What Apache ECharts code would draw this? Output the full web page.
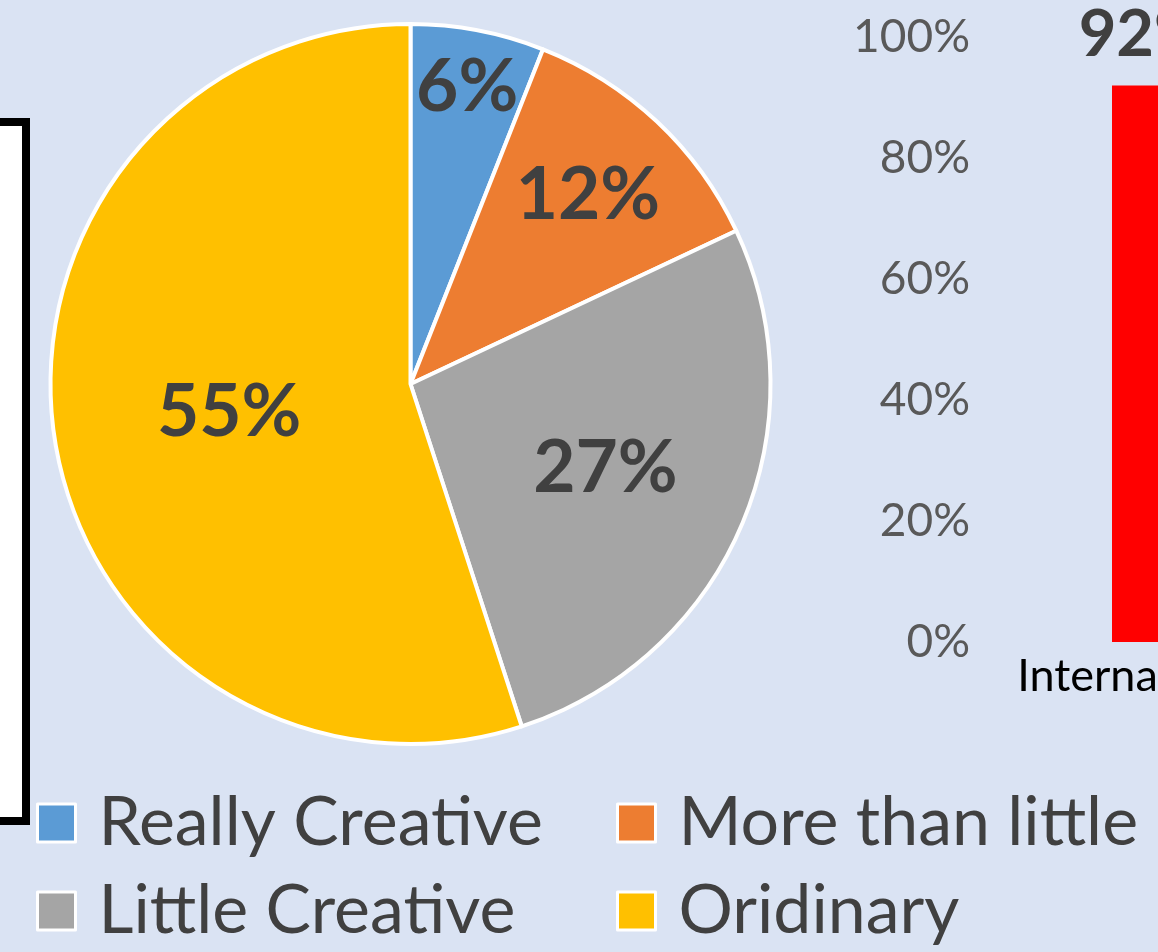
<!DOCTYPE html>
<html>
<head>
<meta charset="utf-8">
<script src="https://cdn.jsdelivr.net/npm/echarts@6/dist/echarts.min.js"></script>
<style>
html,body{margin:0;padding:0;background:#dae3f3;}
#c{width:1158px;height:952px;}
</style>
</head>
<body>
<div id="c"></div>
<script>
// ---- data ----
const pieCategories = ['Really Creative', 'More than little Creative', 'Little Creative', 'Oridinary'];
const pieValues = [6, 12, 27, 55];
const barCategories = ['International'];
const barValues = [92];
const yTicks = [0, 20, 40, 60, 80, 100];

// ---- style ----
const FONT = 'Lato';
const pieColors = ['#5b9bd5', '#ed7d31', '#a5a5a5', '#ffc000'];
const pieCenter = [410.5, 384];
const pieRadius = 360;
const labelRadiusFrac = [0.84, 0.72, 0.59, 0.51];

const total = pieValues.reduce((a, b) => a + b, 0);
const cum = [];
let acc = 0;
pieValues.forEach(v => { cum.push(acc + v / 2); acc += v; });

const legendText = {
  fontFamily: FONT, fontSize: 68, color: '#404040',
  lineHeight: 70, padding: [0, 0, 0, 18]
};
const legendBase = {
  orient: 'vertical',
  top: 783,
  icon: 'rect',
  itemWidth: 38,
  itemHeight: 38,
  itemGap: 18,
  itemStyle: {borderColor: '#ffffff', borderWidth: 3},
  textStyle: legendText
};

const chart = echarts.init(document.getElementById('c'), null, {renderer: 'canvas'});
chart.setOption({
  backgroundColor: '#dae3f3',
  animation: false,
  graphic: [{
    type: 'rect',
    shape: {x: -40, y: 122, width: 66, height: 699},
    style: {fill: '#ffffff', stroke: '#000000', lineWidth: 8},
    z: 0
  }],
  legend: [
    Object.assign({}, legendBase, {left: 31, data: [pieCategories[0], pieCategories[2]]}),
    Object.assign({}, legendBase, {left: 611, data: [pieCategories[1], pieCategories[3]]})
  ],
  grid: {left: 1000, width: 286, top: 37, bottom: 310, containLabel: false, outerBoundsMode: 'none'},
  xAxis: {
    type: 'category',
    data: barCategories,
    axisLine: {show: false},
    axisTick: {show: false},
    axisLabel: {fontFamily: FONT, fontSize: 45, color: '#000000', margin: 12}
  },
  yAxis: {
    type: 'value',
    min: yTicks[0],
    max: yTicks[yTicks.length - 1],
    interval: yTicks[1] - yTicks[0],
    axisLine: {show: false},
    axisTick: {show: false},
    splitLine: {show: false},
    axisLabel: {fontFamily: FONT, fontSize: 46, color: '#595959', margin: 30, formatter: '{value}%'}
  },
  series: [
    {
      type: 'pie',
      center: pieCenter,
      radius: pieRadius,
      startAngle: 90,
      clockwise: true,
      data: pieCategories.map((n, i) => ({name: n, value: pieValues[i], itemStyle: {color: pieColors[i]}})),
      itemStyle: {borderColor: '#ffffff', borderWidth: 4},
      label: {
        show: true, position: 'inside', formatter: '{c}%',
        fontFamily: FONT, fontWeight: 'bold', fontSize: 73, color: '#404040'
      },
      labelLine: {show: false},
      labelLayout: function (p) {
        const i = p.dataIndex;
        const ang = cum[i] / total * 2 * Math.PI;
        const r = pieRadius * labelRadiusFrac[i];
        return {
          x: pieCenter[0] + r * Math.sin(ang),
          y: pieCenter[1] - r * Math.cos(ang),
          align: 'center',
          verticalAlign: 'middle'
        };
      },
      emphasis: {disabled: true}
    },
    {
      type: 'bar',
      data: barValues,
      barWidth: 62,
      itemStyle: {color: '#ff0000'},
      label: {
        show: true, position: 'top', distance: 18, formatter: '{c}%',
        fontFamily: FONT, fontWeight: 'bold', fontSize: 65, color: '#404040'
      }
    }
  ]
});
</script>
</body>
</html>
